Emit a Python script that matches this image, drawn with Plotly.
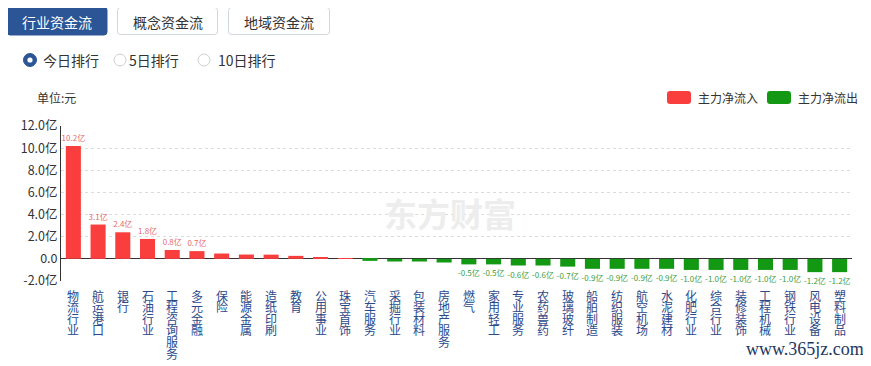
import plotly.graph_objects as go

# ---------------- data ----------------
categories = ["物流行业", "航运港口", "银行", "石油行业", "工程咨询服务", "多元金融", "保险", "能源金属",
              "造纸印刷", "教育", "公用事业", "珠宝首饰", "汽车服务", "采掘行业", "包装材料", "房地产服务",
              "燃气", "家用轻工", "专业服务", "农药兽药", "玻璃玻纤", "船舶制造", "纺织服装", "航空机场",
              "水泥建材", "化肥行业", "综合行业", "装修装饰", "工程机械", "钢铁行业", "风电设备", "塑料制品"]
values = [10.2, 3.1, 2.4, 1.8, 0.8, 0.7, 0.48, 0.39, 0.38, 0.27, 0.1, 0.02,
          -0.18, -0.24, -0.24, -0.33, -0.5, -0.5, -0.6, -0.6, -0.7, -0.9, -0.9, -0.9,
          -0.9, -1.0, -1.0, -1.0, -1.0, -1.0, -1.2, -1.2]
value_labels = ["10.2亿", "3.1亿", "2.4亿", "1.8亿", "0.8亿", "0.7亿", "", "", "", "", "", "",
                "", "", "", "", "-0.5亿", "-0.5亿", "-0.6亿", "-0.6亿", "-0.7亿", "-0.9亿", "-0.9亿", "-0.9亿",
                "-0.9亿", "-1.0亿", "-1.0亿", "-1.0亿", "-1.0亿", "-1.0亿", "-1.2亿", "-1.2亿"]
y_tick_vals = [-2, 0, 2, 4, 6, 8, 10, 12]
y_tick_text = ["-2.0亿", "0.0", "2.0亿", "4.0亿", "6.0亿", "8.0亿", "10.0亿", "12.0亿"]
legend_names = ["主力净流入", "主力净流出"]
tab_names = ["行业资金流", "概念资金流", "地域资金流"]
radio_names = ["今日排行", "5日排行", "10日排行"]

# ---------------- style ----------------
# the page body has an 8px default margin, so the figure is drawn 8px in from the window corner
OFF = 8
WIN_W, WIN_H = 871, 366
W, H = WIN_W - OFF, WIN_H - OFF
# plot area in window pixels
PL, PR, PT, PB = 61, 852, 126, 281
ML, MR, MT, MB = PL - OFF, WIN_W - PR, PT - OFF, WIN_H - PB
PW, PH = PR - PL, PB - PT
RED, GREEN = "#fa3e3e", "#129812"
RED_TXT, GREEN_TXT = "#e46a6a", "#3c9e3c"
BLUE = "#2c5596"
FONT = "Noto Sans CJK SC"


def xp(px):
    return (px - PL) / PW


def yp(py):
    return (PB - py) / PH


def rrect(x0, y0, x1, y1, r):
    pts = [("M", x0 + r, y0), ("L", x1 - r, y0), ("Q", x1, y0, x1, y0 + r), ("L", x1, y1 - r),
           ("Q", x1, y1, x1 - r, y1), ("L", x0 + r, y1), ("Q", x0, y1, x0, y1 - r),
           ("L", x0, y0 + r), ("Q", x0, y0, x0 + r, y0)]
    s = ""
    for p in pts:
        if p[0] == "Q":
            s += f"Q{xp(p[1]):.5f},{yp(p[2]):.5f} {xp(p[3]):.5f},{yp(p[4]):.5f} "
        else:
            s += f"{p[0]}{xp(p[1]):.5f},{yp(p[2]):.5f} "
    return s + "Z"


colors = [RED if v >= 0 else GREEN for v in values]
txt_colors = [RED_TXT if v >= 0 else GREEN_TXT for v in values]

fig = go.Figure(go.Bar(
    x=categories, y=values, marker=dict(color=colors, line=dict(width=0)),
    text=value_labels, textposition="outside", constraintext="none", cliponaxis=False,
    textfont=dict(size=8, color=txt_colors, family=FONT), hoverinfo="x+y", showlegend=False,
))

shapes = []
annotations = []

# tabs
tab_x = [(7, 107), (117, 218), (228, 330)]
for i, (name, (a, b)) in enumerate(zip(tab_names, tab_x)):
    if i == 0:
        shapes.append(dict(type="path", path=rrect(a, 7, b, 35, 3), xref="paper", yref="paper",
                           fillcolor=BLUE, line=dict(color=BLUE, width=1)))
        col = "white"
    else:
        shapes.append(dict(type="path", path=rrect(a + 0.5, 7.5, b - 0.5, 34.5, 3), xref="paper", yref="paper",
                           fillcolor="white", line=dict(color="#d0d6de", width=1)))
        col = "#333333"
    annotations.append(dict(text=name, x=xp((a + b) / 2), y=yp(21.5), xref="paper", yref="paper",
                            showarrow=False, font=dict(size=14, color=col, family=FONT),
                            xanchor="center", yanchor="middle"))

# radios
radio_cx = [30, 120, 204]
radio_tx = [41, 127, 216]
for i, (name, cx, tx) in enumerate(zip(radio_names, radio_cx, radio_tx)):
    r = 6.5 if i == 0 else 6
    if i == 0:
        shapes.append(dict(type="circle", xref="paper", yref="paper", x0=xp(cx - r), x1=xp(cx + r),
                           y0=yp(60 + r), y1=yp(60 - r), fillcolor=BLUE, line=dict(color=BLUE, width=1)))
        shapes.append(dict(type="circle", xref="paper", yref="paper", x0=xp(cx - 2.6), x1=xp(cx + 2.6),
                           y0=yp(60 + 2.6), y1=yp(60 - 2.6), fillcolor="white", line=dict(width=0)))
    else:
        shapes.append(dict(type="circle", xref="paper", yref="paper", x0=xp(cx - r), x1=xp(cx + r),
                           y0=yp(60 + r), y1=yp(60 - r), fillcolor="white", line=dict(color="#cfcfcf", width=1)))
    annotations.append(dict(text=name, x=xp(tx), y=yp(60), xref="paper", yref="paper", showarrow=False,
                            font=dict(size=14, color="#333333", family=FONT), xanchor="left", yanchor="middle"))

# unit
annotations.append(dict(text="单位:元", x=xp(35), y=yp(97), xref="paper", yref="paper", showarrow=False,
                        font=dict(size=12, color="#333333", family=FONT), xanchor="left", yanchor="middle"))

# legend
leg = [(667, RED, legend_names[0]), (767, GREEN, legend_names[1])]
for lx, col, name in leg:
    shapes.append(dict(type="path", path=rrect(lx, 91, lx + 24, 104, 3), xref="paper", yref="paper",
                       fillcolor=col, line=dict(width=0)))
    annotations.append(dict(text=name, x=xp(lx + 29), y=yp(97.5), xref="paper", yref="paper", showarrow=False,
                            font=dict(size=12, color="#333333", family=FONT), xanchor="left", yanchor="middle"))

# vertical category labels
for c in categories:
    for j, ch in enumerate(c):
        annotations.append(dict(text=ch, x=c, xref="x", y=yp(295 + j * 11.6), yref="paper", showarrow=False,
                                font=dict(size=12, color="#2b4a8c", family=FONT),
                                xanchor="center", yanchor="middle"))

# watermarks
annotations.append(dict(text="东方财富", x=xp(450), y=yp(213), xref="paper", yref="paper", showarrow=False,
                        font=dict(size=33, color="#ededed", family=FONT, weight="bold"),
                        xanchor="center", yanchor="middle"))
annotations.append(dict(text="www.365jz.com", x=xp(805), y=yp(349), xref="paper", yref="paper", showarrow=False,
                        font=dict(size=18, color="#1d3760", family="Liberation Serif"),
                        xanchor="center", yanchor="middle"))

fig.update_layout(
    width=W, height=H, margin=dict(l=ML, r=MR, t=MT, b=MB, autoexpand=False),
    paper_bgcolor="white", plot_bgcolor="white",
    bargap=0.39, showlegend=False,
    shapes=shapes, annotations=annotations,
    font=dict(family=FONT, color="#333333"),
    xaxis=dict(showticklabels=False, showgrid=False, zeroline=False, showline=False, ticks="",
               range=[-0.5, len(categories) - 0.5]),
    yaxis=dict(range=[-2, 12], tickvals=y_tick_vals, ticktext=y_tick_text,
               tickfont=dict(size=12.5, color="#333333", family=FONT),
               showgrid=True, gridcolor="#dcdcdc", griddash="dot", gridwidth=1,
               zeroline=True, zerolinecolor="#333333", zerolinewidth=1,
               showline=True, linecolor="#333333", linewidth=1, ticks="", ticklen=0),
)

fig.write_html("out.html")
